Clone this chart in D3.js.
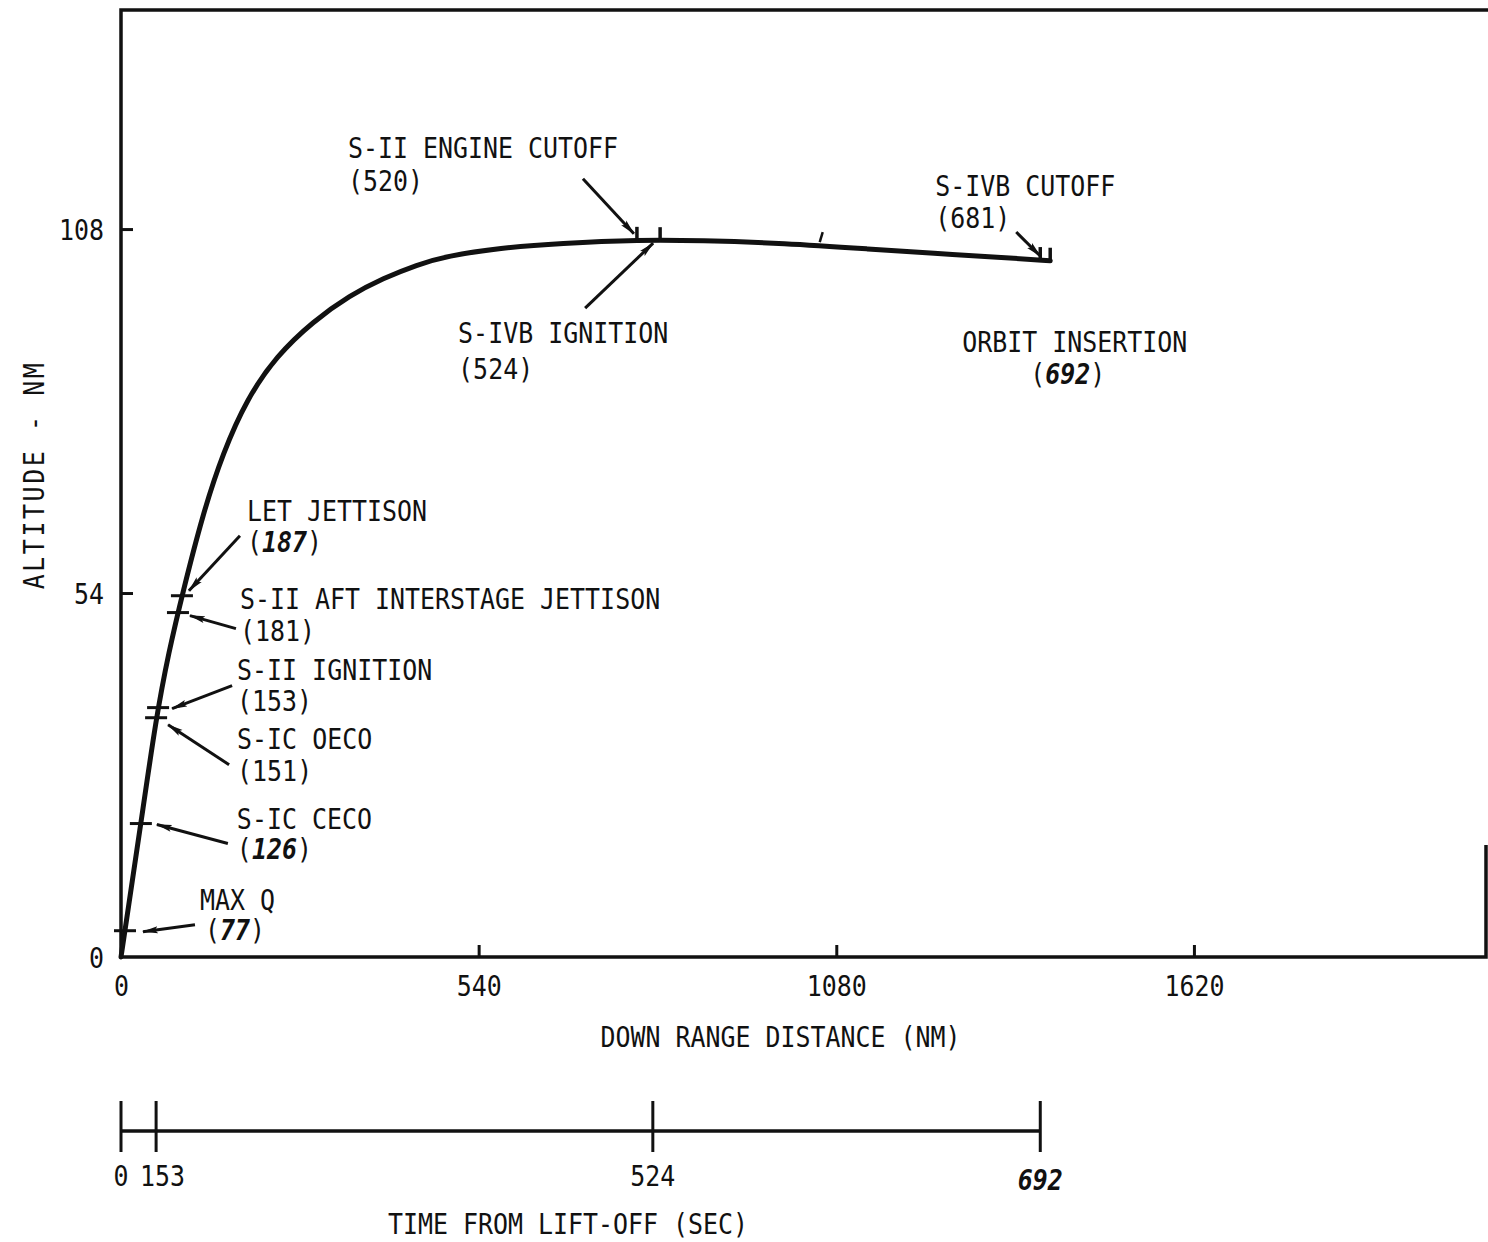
<!DOCTYPE html>
<html>
<head>
<meta charset="utf-8">
<script src="https://cdn.jsdelivr.net/npm/d3@7"></script>
<style>
  body { margin: 0; background: #fff; }
  text { font-family: "DejaVu Sans Mono", "Liberation Mono", monospace; font-size: 29px; fill: #111; }
</style>
</head>
<body>
<div id="chart"></div>
<script>
// trajectory (down range NM, altitude NM)
var distNM = [0, 10, 30, 53, 72, 93, 124, 154, 190, 235, 290, 346, 396, 447, 492, 572, 663, 784, 874, 1000, 1135, 1226, 1327, 1403];
var altNM  = [0, 6.6, 19.8, 35.5, 45.2, 54.0, 65.9, 74.8, 82.8, 89.2, 94.3, 98.2, 100.7, 102.7, 104.0, 105.2, 105.9, 106.4, 106.3, 105.9, 105.0, 104.4, 103.8, 103.3];

// events along the trajectory
var eventNames = ["MAX Q", "S-IC CECO", "S-IC OECO", "S-II IGNITION", "S-II AFT INTERSTAGE JETTISON",
                  "LET JETTISON", "S-II ENGINE CUTOFF", "S-IVB IGNITION", "S-IVB CUTOFF", "ORBIT INSERTION"];
var eventTimes = ["77", "126", "151", "153", "181", "187", "520", "524", "681", "692"];
var eventDist  = [6, 30, 53, 56, 86, 92, 779, 814, 1388, 1403];
var eventAlt   = [3.9, 19.8, 35.5, 37.0, 51.1, 53.6, 106.4, 106.35, 103.4, 103.3];

// axis ticks
var xTicks = [0, 540, 1080, 1620];
var yTicks = [0, 54, 108];

// time from lift-off scale (sec) and matching down range distance (NM)
var timeTicks = [0, 153, 524, 692];
var timeDist  = [0, 53, 803, 1388];

// an extra unlabeled mark on the curve
var strayDist = [1058];
var strayAlt  = [105.6];

// annotation layout: marker kind, label offsets, arrow offsets (px from marker)
var annot = [
  {mark: "h", l1: [75, -31], l2: [80, -1],   arrow: [70, -6, 18, 1],    hand: true},
  {mark: "h", l1: [96, -5],  l2: [96, 25],   arrow: [87, 20, 16, 1],    hand: true},
  {mark: "h", l1: [81, 21],  l2: [81, 53],   arrow: [73, 47, 12, 7],    hand: false},
  {mark: "h", l1: [79, -38], l2: [79, -7],   arrow: [74, -22, 14, 1],   hand: false},
  {mark: "h", l1: [62, -14], l2: [62, 18],   arrow: [58, 16, 12, 3],    hand: false},
  {mark: "h", l1: [65, -85], l2: [65, -54],  arrow: [58, -60, 7, -5],   hand: true},
  {mark: "v", l1: [-289, -92], l2: [-289, -59], arrow: [-54, -61, -3, -6], hand: false},
  {mark: "v", l1: [-202, 92],  l2: [-202, 128], arrow: [-75, 68, -7, 3],   hand: false},
  {mark: "v", l1: [-105, -75], l2: [-105, -43], arrow: [-24, -28, 0, -4],  hand: false},
  {mark: "v", l1: [-88, 81],   l2: [-20, 113],  arrow: null,               hand: true}
];

var W = 1488, H = 1242;
var plot = {left: 121, right: 1486, top: 10, bottom: 957};
var timeAxisY = 1131;
var sx = 0.86; // narrow lettering

var x = d3.scaleLinear().domain([0, 2061]).range([plot.left, plot.right]);
var y = d3.scaleLinear().domain([0, 140.5]).range([plot.bottom, plot.top]);

var svg = d3.select("#chart").append("svg")
    .attr("width", W)
    .attr("height", H);

svg.append("rect").attr("width", W).attr("height", H).attr("fill", "#fff");

svg.append("defs").append("marker")
    .attr("id", "arrow")
    .attr("viewBox", "0 0 16 8")
    .attr("refX", 15).attr("refY", 4)
    .attr("markerWidth", 16).attr("markerHeight", 8)
    .attr("markerUnits", "userSpaceOnUse")
    .attr("orient", "auto")
    .append("path")
    .attr("d", "M0,0.5 L16,4 L0,7.5 L3,4 Z")
    .attr("fill", "#111");

// draw narrow text, cy = vertical centre of the caps
function label(g, px, py, parts, anchor, rot) {
  var t = g.append("text")
      .attr("transform", "translate(" + px + "," + py + ")" + (rot ? " rotate(" + rot + ")" : "") + " scale(" + sx + ",1)")
      .attr("text-anchor", anchor || "start")
      .attr("dy", "0.365em");
  parts.forEach(function(p) {
    var s = t.append("tspan").text(p.t);
    if (p.hand) s.style("font-style", "italic").style("font-weight", "bold");
  });
  return t;
}
function timeParts(str, hand) {
  if (!hand) return [{t: "(" + str + ")"}];
  return [{t: "("}, {t: str, hand: true}, {t: ")"}];
}

// frame
var frame = svg.append("g").attr("stroke", "#111").attr("stroke-width", 3.5).attr("fill", "none");
frame.append("path").attr("d", "M" + plot.left + "," + plot.bottom + "V" + plot.top + "H" + W);
frame.append("path").attr("d", "M" + plot.left + "," + plot.bottom + "H" + plot.right + "V845");

// axes with inward ticks
var xAxis = svg.append("g")
    .attr("transform", "translate(0," + plot.bottom + ")")
    .call(d3.axisBottom(x).tickValues(xTicks).tickSize(-12).tickPadding(28).tickFormat(d3.format("d")));
var yAxis = svg.append("g")
    .attr("transform", "translate(" + plot.left + ",0)")
    .call(d3.axisLeft(y).tickValues(yTicks).tickSize(-12).tickPadding(17).tickFormat(d3.format("d")));

[xAxis, yAxis].forEach(function(a) {
  a.select(".domain").remove();
  a.attr("font-family", null).attr("font-size", null);
  a.selectAll(".tick line").attr("stroke", "#111").attr("stroke-width", 3);
  a.selectAll(".tick").filter(function(d) { return d === 0; }).select("line").remove();
});
xAxis.selectAll(".tick text")
    .attr("y", null).attr("dy", "0.365em")
    .attr("transform", "translate(0,28) scale(" + sx + ",1)");
yAxis.selectAll(".tick text")
    .attr("x", null).attr("dy", "0.365em")
    .attr("transform", "translate(-17,0) scale(" + sx + ",1)");

// axis titles
label(svg, (plot.left + 1440) / 2, 1036, [{t: "DOWN RANGE DISTANCE (NM)"}], "middle");
label(svg, 33, 475, [{t: "ALTITUDE - NM"}], "middle", -90).attr("letter-spacing", 3);

// trajectory
var pts = distNM.map(function(d, i) { return [d, altNM[i]]; });
var line = d3.line()
    .x(function(d) { return x(d[0]); })
    .y(function(d) { return y(d[1]); })
    .curve(d3.curveBasis);
svg.append("path")
    .datum(pts)
    .attr("d", line)
    .attr("fill", "none")
    .attr("stroke", "#111")
    .attr("stroke-width", 5)
    .attr("stroke-linecap", "round");

// event markers, arrows and labels
var ev = svg.append("g");
eventNames.forEach(function(name, i) {
  var mx = x(eventDist[i]), my = y(eventAlt[i]), a = annot[i];
  if (a.mark === "h") {
    ev.append("line")
        .attr("x1", mx - 11).attr("x2", mx + 11)
        .attr("y1", my).attr("y2", my)
        .attr("stroke", "#111").attr("stroke-width", 3);
  } else {
    ev.append("line")
        .attr("x1", mx).attr("x2", mx)
        .attr("y1", my - 13).attr("y2", my + 1)
        .attr("stroke", "#111").attr("stroke-width", 3.5);
  }
  if (a.arrow) {
    ev.append("line")
        .attr("x1", mx + a.arrow[0]).attr("y1", my + a.arrow[1])
        .attr("x2", mx + a.arrow[2]).attr("y2", my + a.arrow[3])
        .attr("stroke", "#111").attr("stroke-width", 3)
        .attr("marker-end", "url(#arrow)");
  }
  label(ev, mx + a.l1[0], my + a.l1[1], [{t: name}]);
  label(ev, mx + a.l2[0], my + a.l2[1], timeParts(eventTimes[i], a.hand));
});

strayDist.forEach(function(d, i) {
  ev.append("line")
      .attr("x1", x(d) - 2).attr("y1", y(strayAlt[i]) - 3)
      .attr("x2", x(d) + 1).attr("y2", y(strayAlt[i]) - 13)
      .attr("stroke", "#111").attr("stroke-width", 2.5);
});

// time from lift-off scale
var ta = svg.append("g");
ta.append("line")
    .attr("x1", x(timeDist[0])).attr("x2", x(timeDist[timeDist.length - 1]))
    .attr("y1", timeAxisY).attr("y2", timeAxisY)
    .attr("stroke", "#111").attr("stroke-width", 3.5);
ta.selectAll(".ttick")
    .data(timeTicks)
    .enter().append("line")
    .attr("class", "ttick")
    .attr("x1", function(d, i) { return x(timeDist[i]); })
    .attr("x2", function(d, i) { return x(timeDist[i]); })
    .attr("y1", timeAxisY - 30).attr("y2", timeAxisY + 21)
    .attr("stroke", "#111").attr("stroke-width", 3);
timeTicks.forEach(function(t, i) {
  var tx = x(timeDist[i]);
  if (t === 153) label(ta, tx - 16, 1175, [{t: String(t)}], "start");
  else if (t === 692) label(ta, tx, 1179, [{t: String(t), hand: true}], "middle");
  else label(ta, tx, 1175, [{t: String(t)}], "middle");
});
label(svg, 568, 1223, [{t: "TIME FROM LIFT-OFF (SEC)"}], "middle");
</script>
</body>
</html>
